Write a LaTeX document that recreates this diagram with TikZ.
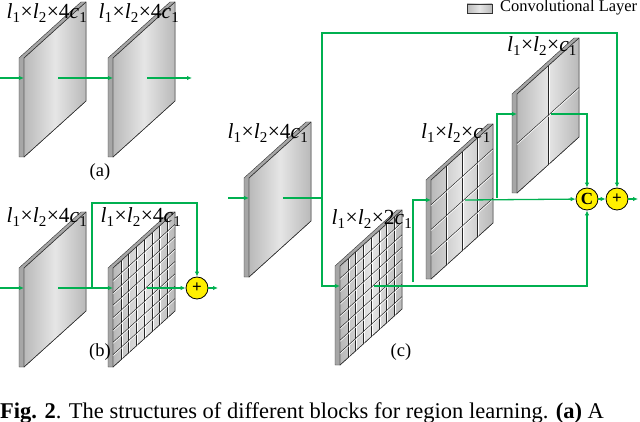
\documentclass[tikz,border=0pt]{standalone}
\usepackage{fontspec}
\setmainfont{Liberation Serif}
\usetikzlibrary{arrows.meta}
\definecolor{lg}{RGB}{0,176,80}
\definecolor{cy}{RGB}{255,240,0}
\newcommand\lyr[5]{% x, ytop, nx, ny, name
  \fill[gray!70] (#1-5,#2) -- (#1+57,#2-56) -- (#1+62,#2-56) -- (#1+62,#2+43) -- (#1,#2+99) -- (#1-5,#2+99) -- cycle;
  \draw[gray!40!black,line width=0.4pt] (#1-5,#2) -- (#1+57,#2-56) -- (#1+62,#2-56) -- (#1+62,#2+43) -- (#1,#2+99) -- (#1-5,#2+99) -- cycle;
  \shade[left color=gray!55,right color=gray!55,middle color=gray!20,draw=gray!40!black,line width=0.4pt]
    (#1,#2) -- (#1+62,#2-56) -- (#1+62,#2+43) -- (#1,#2+99) -- cycle;
  \ifnum#3>1
  \foreach \i in {1,...,\numexpr#3-1\relax}{
    \draw[gray!30!black,line width=0.5pt] ({#1+\i*62/#3},{#2-\i*56/#3}) -- ++(0,99);
    \draw[white,line width=0.5pt] ({#1+\i*62/#3+1.2},{#2-\i*56/#3}) -- ++(0,99);}
  \foreach \j in {1,...,\numexpr#4-1\relax}{
    \draw[gray!30!black,line width=0.5pt] (#1,{#2+\j*99/#4}) -- ++(62,-56);
    \draw[white,line width=0.5pt] (#1,{#2+\j*99/#4+1.2}) -- ++(62,-56);}
  \fi
  \draw[gray!40!black,line width=0.4pt] (#1,#2) -- (#1+62,#2-56) -- (#1+62,#2+43) -- (#1,#2+99) -- cycle;
  \coordinate (#5) at (#1,#2+20);
  \coordinate (#5m) at (#1+34,#2+20);
}
\begin{document}
\begin{tikzpicture}[x=1pt,y=-1pt,
  con/.style={lg,line width=1.3pt,-{Latex[length=5pt,width=4.5pt]}},
  ln/.style={lg,line width=1.3pt},
  op/.style={circle,draw=black,fill=cy,line width=0.8pt,minimum size=22pt,inner sep=0pt,font=\bfseries\fontsize{17}{17}\selectfont},
  lab/.style={font=\fontsize{16.5}{18}\selectfont,inner sep=0pt},
  plab/.style={font=\fontsize{18.5}{20}\selectfont,inner sep=0pt},
  dlab/.style={font=\fontsize{21.5}{23}\selectfont,inner sep=0pt},
  captxt/.style={font=\fontsize{22.5}{24}\selectfont,inner sep=0pt}]
\useasboundingbox (0,0) rectangle (640,422);
\clip (0,0) rectangle (640,422);
\newcommand\dims[1]{\textit{l}\textsubscript{1}×\textit{l}\textsubscript{2}×#1\textit{c}\textsubscript{1}}
% legend
\shade[left color=gray!55,right color=gray!55,middle color=gray!20,draw=gray!40!black] (467,4) rectangle (492,13);
\node[lab,anchor=west] (leg) at (500,8) {Convolutional Layer};
% (a)
\lyr{24}{58}{1}{1}{a1}
\lyr{113}{58}{1}{1}{a2}
\coordinate (ain) at (0,78); \coordinate (aout) at (192,78);
\draw[con] (ain) -- (a1);
\draw[con] (a1m) -- (a2);
\draw[con] (a2m) -- (aout);
\node[dlab] (la1) at (47,13) {\dims{4}};
\node[dlab] (la2) at (139,13) {\dims{4}};
\node[plab] (ca) at (100,172) {(a)};
% (b)
\lyr{24}{268}{1}{1}{b1}
\lyr{113}{268}{8}{8}{b2}
\node[op] (bp) at (197,288) {+};
\coordinate (bin) at (0,288); \coordinate (bout) at (218,288);
\coordinate (bj) at (92,288);
\draw[con] (bin) -- (b1);
\draw[con] (b1m) -- (b2);
\draw[con] (b2m) -- (bp);
\draw[con] (bj) |- (197,203) -- (bp);
\draw[con] (bp) -- (bout);
\node[dlab] (lb1) at (47,217) {\dims{4}};
\node[dlab] (lb2) at (141,217) {\dims{4}};
\node[plab] (cb) at (100,352) {(b)};
% (c)
\lyr{249}{178}{1}{1}{c1}
\lyr{340}{266}{8}{8}{c2}
\lyr{431}{180}{4}{4}{c3}
\lyr{517}{94}{2}{2}{c4}
\node[op] (cc) at (587,199) {C};
\node[op] (cp) at (617,199) {+};
\coordinate (cin) at (228,198); \coordinate (cout) at (638,199);
\coordinate (cj) at (322,198);
\coordinate (cj2) at (413,282);
\coordinate (cj3) at (497,198);
\draw[con] (cin) -- (c1);
\draw[ln] (c1m) -- (cj);
\draw[con] (cj) |- (617,33) -- (cp);
\draw[con] (cj) |- (c2);
\draw[con] (c2m) -| (cc);
\draw[con] (cj2) |- (c3);
\draw[con] (c3m) -- (cc);
\draw[con] (cj3) |- (c4);
\draw[con] (c4m) -| (cc);
\draw[con] (cc) -- (cp);
\draw[con] (cp) -- (cout);
\node[dlab] (lc1) at (268,133) {\dims{4}};
\node[dlab] (lc2) at (372,219) {\dims{2}};
\node[dlab] (lc3) at (456,133) {\dims{}};
\node[dlab] (lc4) at (542,46) {\dims{}};
\node[plab] (cc2) at (401,352) {(c)};
\node[captxt,anchor=base west] (capt) at (0,418) {\textbf{Fig. 2}. The structures of different blocks for region learning. \textbf{(a)} A};
\end{tikzpicture}
\end{document}
